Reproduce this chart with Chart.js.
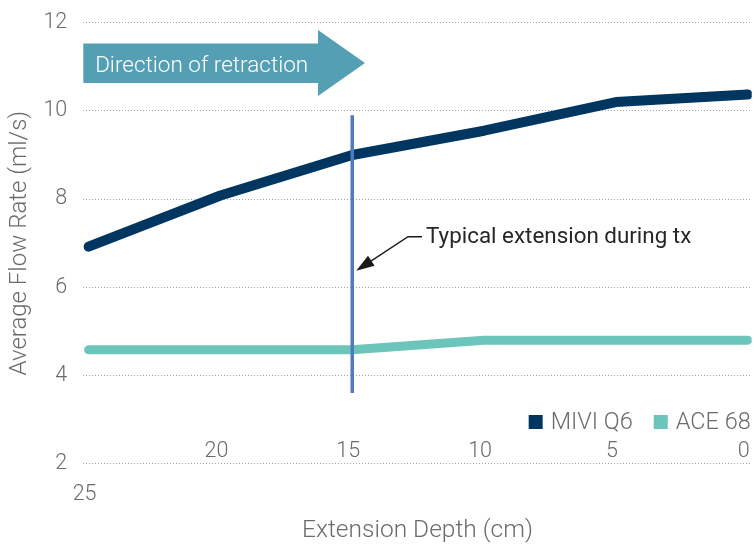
<!DOCTYPE html>
<html><head><meta charset="utf-8">
<script src="https://cdn.jsdelivr.net/npm/chart.js@4.4.1/dist/chart.umd.min.js"></script>
<style>html,body{margin:0;padding:0;background:#fff;} #wrap{width:754px;height:546px;position:relative;}</style>
</head><body><div id="wrap"><canvas id="c"></canvas></div>
<script>
// ---- data ----
const depths = [25, 20, 15, 10, 5, 0];
const miviQ6 = [6.92, 8.08, 9.0, 9.55, 10.2, 10.37];
const ace68 = [4.58, 4.58, 4.58, 4.8, 4.8, 4.8];
const xTicks = [25, 20, 15, 10, 5, 0];
const yTicks = [2, 4, 6, 8, 10, 12];
const seriesNames = ['MIVI Q6', 'ACE 68'];
const typicalDepth = 15;
const typicalRange = [3.6, 9.9];
const xTitle = 'Extension Depth (cm)';
const yTitle = 'Average Flow Rate (ml/s)';
const arrowText = 'Direction of retraction';
const noteText = 'Typical extension during tx';

// ---- style ----
const FONT = "Roboto, 'Liberation Sans', Arial, sans-serif";
const GRAY = '#6b6b6b';
const NAVY = '#003660';
const TEAL = '#6cc5bb';
const MARK = '#5179c2';
const ARROW = '#559fb5';

const annotations = {
  id: 'annotations',
  afterDatasetsDraw(chart) {
    const ctx = chart.ctx;
    const a = chart.chartArea;
    ctx.save();
    // direction arrow
    const L = a.left, T = 43.5, B = 83, HB = 318, HT = 30, HBt = 96, TIP = 365;
    const mid = (T + B) / 2;
    ctx.fillStyle = ARROW;
    ctx.beginPath();
    ctx.moveTo(L, T); ctx.lineTo(HB, T); ctx.lineTo(HB, HT); ctx.lineTo(TIP, (HT + HBt) / 2);
    ctx.lineTo(HB, HBt); ctx.lineTo(HB, B); ctx.lineTo(L, B); ctx.closePath();
    ctx.fill();
    ctx.fillStyle = '#ffffff';
    ctx.font = `300 22.5px ${FONT}`;
    ctx.textAlign = 'center';
    ctx.textBaseline = 'middle';
    ctx.fillText(arrowText, (L + HB) / 2 + 1, mid + 3);

    // note with leader arrow
    const xs = chart.scales.x;
    const tipX = xs.getPixelForValue(typicalDepth) + 4, tipY = 270.7;
    const elbowX = 408, elbowY = 236.7, endX = 422;
    ctx.strokeStyle = '#1a1a1a';
    ctx.lineWidth = 1.4;
    ctx.beginPath();
    ctx.moveTo(endX, elbowY); ctx.lineTo(elbowX, elbowY);
    const dx = tipX - elbowX, dy = tipY - elbowY, len = Math.hypot(dx, dy);
    const ux = dx / len, uy = dy / len;
    const hl = 18, hw = 6;
    const bx = tipX - ux * hl, by = tipY - uy * hl;
    ctx.lineTo(bx, by);
    ctx.stroke();
    ctx.fillStyle = '#1a1a1a';
    ctx.beginPath();
    ctx.moveTo(tipX, tipY);
    ctx.lineTo(bx - uy * hw, by + ux * hw);
    ctx.lineTo(bx + uy * hw, by - ux * hw);
    ctx.closePath();
    ctx.fill();
    ctx.fillStyle = '#262626';
    ctx.font = `400 22.4px ${FONT}`;
    ctx.textAlign = 'left';
    ctx.fillText(noteText, 426, elbowY + 1);
    ctx.restore();
  }
};

const customLegend = {
  id: 'customLegend',
  afterDraw(chart) {
    const ctx = chart.ctx;
    const a = chart.chartArea;
    const items = chart.data.datasets.filter(d => !d.hideFromLegend);
    ctx.save();
    ctx.font = `300 23.5px ${FONT}`;
    const box = 14, gap = 8, itemGap = 21, y = 422;
    const widths = items.map(d => box + gap + ctx.measureText(d.label).width);
    const total = widths.reduce((s, w) => s + w, 0) + itemGap * (items.length - 1);
    let x = a.right - 1 - total;
    ctx.textAlign = 'left';
    ctx.textBaseline = 'middle';
    items.forEach((d, i) => {
      ctx.fillStyle = d.borderColor;
      ctx.fillRect(x, y - 7, box, box);
      ctx.fillStyle = GRAY;
      ctx.fillText(d.label, x + box + gap, y + 1);
      x += widths[i] + itemGap;
    });
    ctx.restore();
  }
};

new Chart(document.getElementById('c'), {
  type: 'line',
  data: {
    datasets: [
      { label: seriesNames[0], data: depths.map((d, i) => ({ x: d, y: miviQ6[i] })),
        borderColor: NAVY, backgroundColor: NAVY, borderWidth: 10, pointRadius: 0,
        borderCapStyle: 'round', borderJoinStyle: 'round', tension: 0, order: 1 },
      { label: seriesNames[1], data: depths.map((d, i) => ({ x: d, y: ace68[i] })),
        borderColor: TEAL, backgroundColor: TEAL, borderWidth: 9, pointRadius: 0,
        borderCapStyle: 'round', borderJoinStyle: 'round', tension: 0, order: 1 },
      { label: 'Typical extension', hideFromLegend: true,
        data: typicalRange.map(v => ({ x: typicalDepth, y: v })),
        borderColor: MARK, borderWidth: 3.5, pointRadius: 0, order: -1 }
    ]
  },
  options: {
    responsive: true,
    maintainAspectRatio: false,
    animation: false,
    events: [],
    layout: { padding: { top: 22.7, right: 2.3, left: 0, bottom: 0 } },
    scales: {
      x: {
        type: 'linear', reverse: true, min: -0.15, max: 25.2,
        position: { y: 2 },
        grid: { display: false, drawTicks: false },
        border: { display: false },
        afterBuildTicks: s => { s.ticks = xTicks.map(v => ({ value: v })); },
        afterFit: s => { s.paddingLeft = 0; s.paddingRight = 0; s.paddingTop = 0; s.paddingBottom = 0; },
        ticks: {
          color: GRAY, autoSkip: false, maxRotation: 0, minRotation: 0,
          font: { family: FONT, size: 21.5, weight: 300, lineHeight: 43 / 21.5 },
          padding: -33.3, labelOffset: -4,
          callback: v => (v === xTicks[0] ? ['', String(v)] : String(v))
        }
      },
      y: {
        min: 2, max: 12,
        afterBuildTicks: s => { s.ticks = yTicks.map(v => ({ value: v })); },
        afterFit: s => { s.width = 83.3; s.paddingTop = 0; s.paddingBottom = 0; },
        grid: { color: '#a3a3a3', lineWidth: 1, drawTicks: false },
        border: { display: false, dash: [1, 2] },
        ticks: { color: GRAY, font: { family: FONT, size: 21.5, weight: 300 }, padding: 16 },
        title: { display: true, text: yTitle, color: GRAY,
          font: { family: FONT, size: 24, weight: 300 }, padding: { top: 5.6, bottom: 0 } }
      }
    },
    plugins: {
      legend: { display: false },
      tooltip: { enabled: false },
      title: { display: true, text: xTitle, position: 'bottom', fullSize: false, color: GRAY,
        font: { family: FONT, size: 24.5, weight: 300 }, padding: { top: 53, bottom: 0 } }
    }
  },
  plugins: [annotations, customLegend]
});
</script>
</body></html>
